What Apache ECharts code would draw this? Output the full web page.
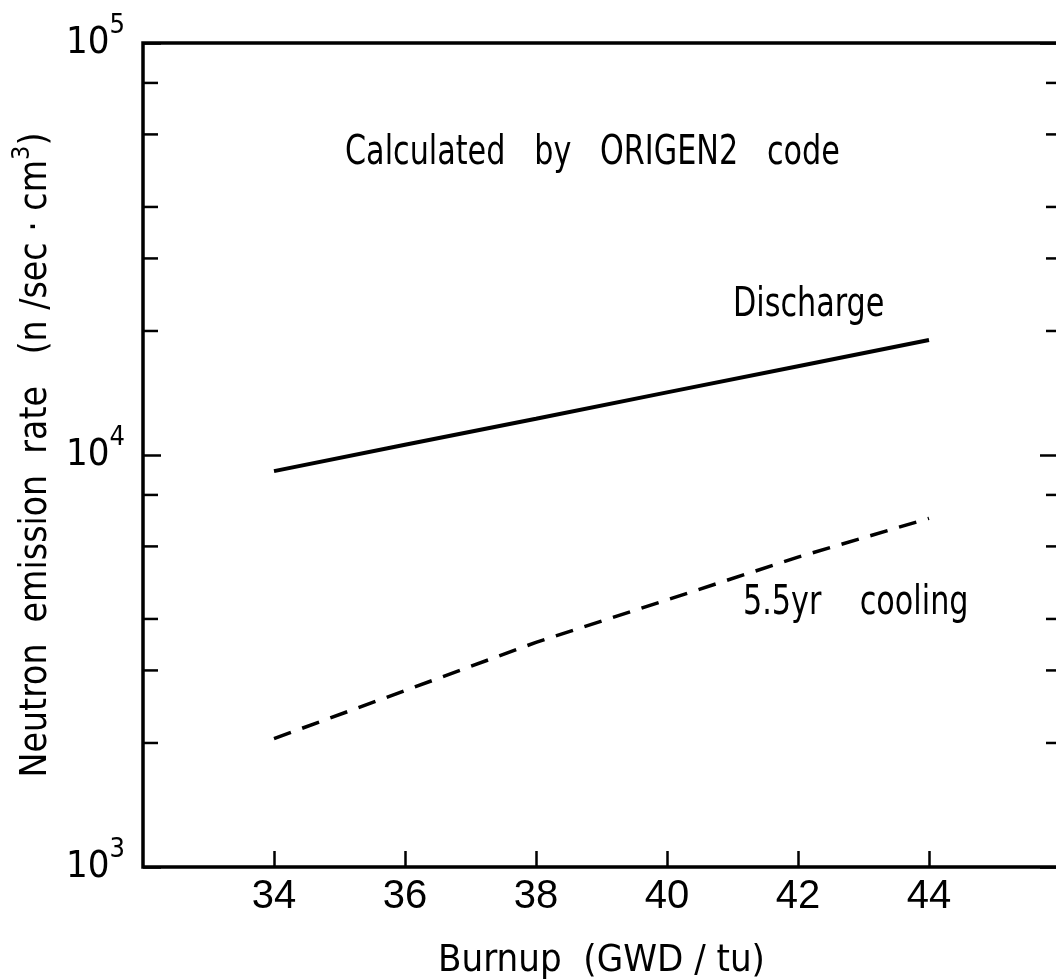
<!DOCTYPE html>
<html>
<head>
<meta charset="utf-8">
<title>Neutron emission rate vs burnup</title>
<script src="https://cdn.jsdelivr.net/npm/echarts@6/dist/echarts.min.js"></script>
<style>
  html, body { margin: 0; padding: 0; background: #fff; overflow: hidden; }
  /* a little wider than the window: the right frame of the plot falls just outside, as in the scan */
  #chart { width: 1064px; height: 979px; }
</style>
</head>
<body>
<div id="chart"></div>
<script>
// burnup, GWD/tu
const burnup = [34, 36, 38, 40, 42, 44];
// neutron emission rate, n/sec.cm3
const discharge = [9140, 10590, 12250, 14190, 16420, 19010];
const cooling55 = [2050, 2680, 3510, 4450, 5650, 7020];

const xMin = 32, xMax = 46, xStep = 2;
const yMin = 1000, yMax = 100000;
// short ticks between the decades (2,3,4,6,8 of each decade)
const minorTicks = [2000, 3000, 4000, 6000, 8000, 20000, 30000, 40000, 60000, 80000];

const narrow = "'Liberation Sans Narrow', 'DejaVu Sans Condensed', 'Liberation Sans', sans-serif";
const plain = "'Liberation Sans', Arial, sans-serif";

const chart = echarts.init(document.getElementById('chart'));

function pairs(xs, ys) {
  return xs.map((x, i) => [x, ys[i]]);
}

// free text in the plot, squeezed a bit to get the narrow lettering of the original
function note(text, x, y) {
  return {
    type: 'text', x: x, y: y, scaleX: 0.84,
    style: { text: text, fontFamily: narrow, fontSize: 40, fill: '#000',
             align: 'left', verticalAlign: 'middle' }
  };
}

chart.setOption({
  backgroundColor: '#fff',
  animation: false,
  grid: {
    left: 143, top: 43, right: 4, bottom: 112,
    outerBoundsMode: 'none',
    show: true, borderColor: '#000', borderWidth: 3.5
  },
  xAxis: {
    type: 'value',
    min: xMin, max: xMax, interval: xStep,
    name: 'Burnup  (GWD / tu)',
    nameLocation: 'middle',
    nameGap: 75,
    nameTextStyle: { fontFamily: narrow, fontSize: 38, color: '#000' },
    axisLine: { show: false },
    axisTick: { inside: true, length: 16, lineStyle: { color: '#000', width: 2.5 } },
    axisLabel: {
      margin: 10, showMinLabel: false, showMaxLabel: false,
      fontFamily: plain, fontSize: 40, color: '#000'
    },
    splitLine: { show: false }
  },
  yAxis: [{
    type: 'log', logBase: 10, min: yMin, max: yMax,
    name: '{a|Neutron  emission  rate   (n /sec · cm}{s|3}{a|)}',
    nameLocation: 'middle',
    nameGap: 69,
    nameTextStyle: {
      color: '#000',
      rich: {
        a: { fontFamily: narrow, fontSize: 37, lineHeight: 54, color: '#000' },
        s: { fontFamily: narrow, fontSize: 25, lineHeight: 25, verticalAlign: 'top', color: '#000' }
      }
    },
    axisLine: { show: false },
    axisTick: { inside: true, length: 18, lineStyle: { color: '#000', width: 2.5 } },
    axisLabel: {
      margin: 18,
      formatter: v => '{b|10}{s|' + Math.round(Math.log10(v)) + '}',
      rich: {
        b: { fontFamily: narrow, fontSize: 38, lineHeight: 62, color: '#000' },
        s: { fontFamily: narrow, fontSize: 27, lineHeight: 27, verticalAlign: 'top', color: '#000' }
      }
    },
    splitLine: { show: false }
  }, {
    type: 'log', logBase: 10, min: yMin, max: yMax,
    position: 'right',
    axisLine: { show: false },
    axisTick: { inside: true, length: 20, lineStyle: { color: '#000', width: 2.5 } },
    axisLabel: { show: false },
    splitLine: { show: false }
  }],
  graphic: [
    note('Calculated   by   ORIGEN2   code', 345, 154),
    note('Discharge', 733, 306),
    note('5.5yr    cooling', 743, 604)
  ],
  series: [
    {
      name: 'Discharge', type: 'line', data: pairs(burnup, discharge),
      showSymbol: false,
      lineStyle: { color: '#000', width: 4 }
    },
    {
      name: '5.5yr cooling', type: 'line', data: pairs(burnup, cooling55),
      showSymbol: false,
      lineStyle: { color: '#000', width: 3.5, type: [18, 12] }
    },
    {
      // minor ticks on both sides of the plot
      type: 'custom', silent: true, clip: false,
      data: minorTicks.map(v => [xMin, v]),
      renderItem: (params, api) => {
        const l = api.coord([xMin, api.value(1)]);
        const r = api.coord([xMax, api.value(1)]);
        const st = { stroke: '#000', lineWidth: 2.5 };
        return {
          type: 'group',
          children: [
            { type: 'line', shape: { x1: l[0], y1: l[1], x2: l[0] + 15, y2: l[1] }, style: st },
            { type: 'line', shape: { x1: r[0] - 14, y1: r[1], x2: r[0], y2: r[1] }, style: st }
          ]
        };
      }
    }
  ]
});

window.addEventListener('resize', () => chart.resize());
</script>
</body>
</html>
